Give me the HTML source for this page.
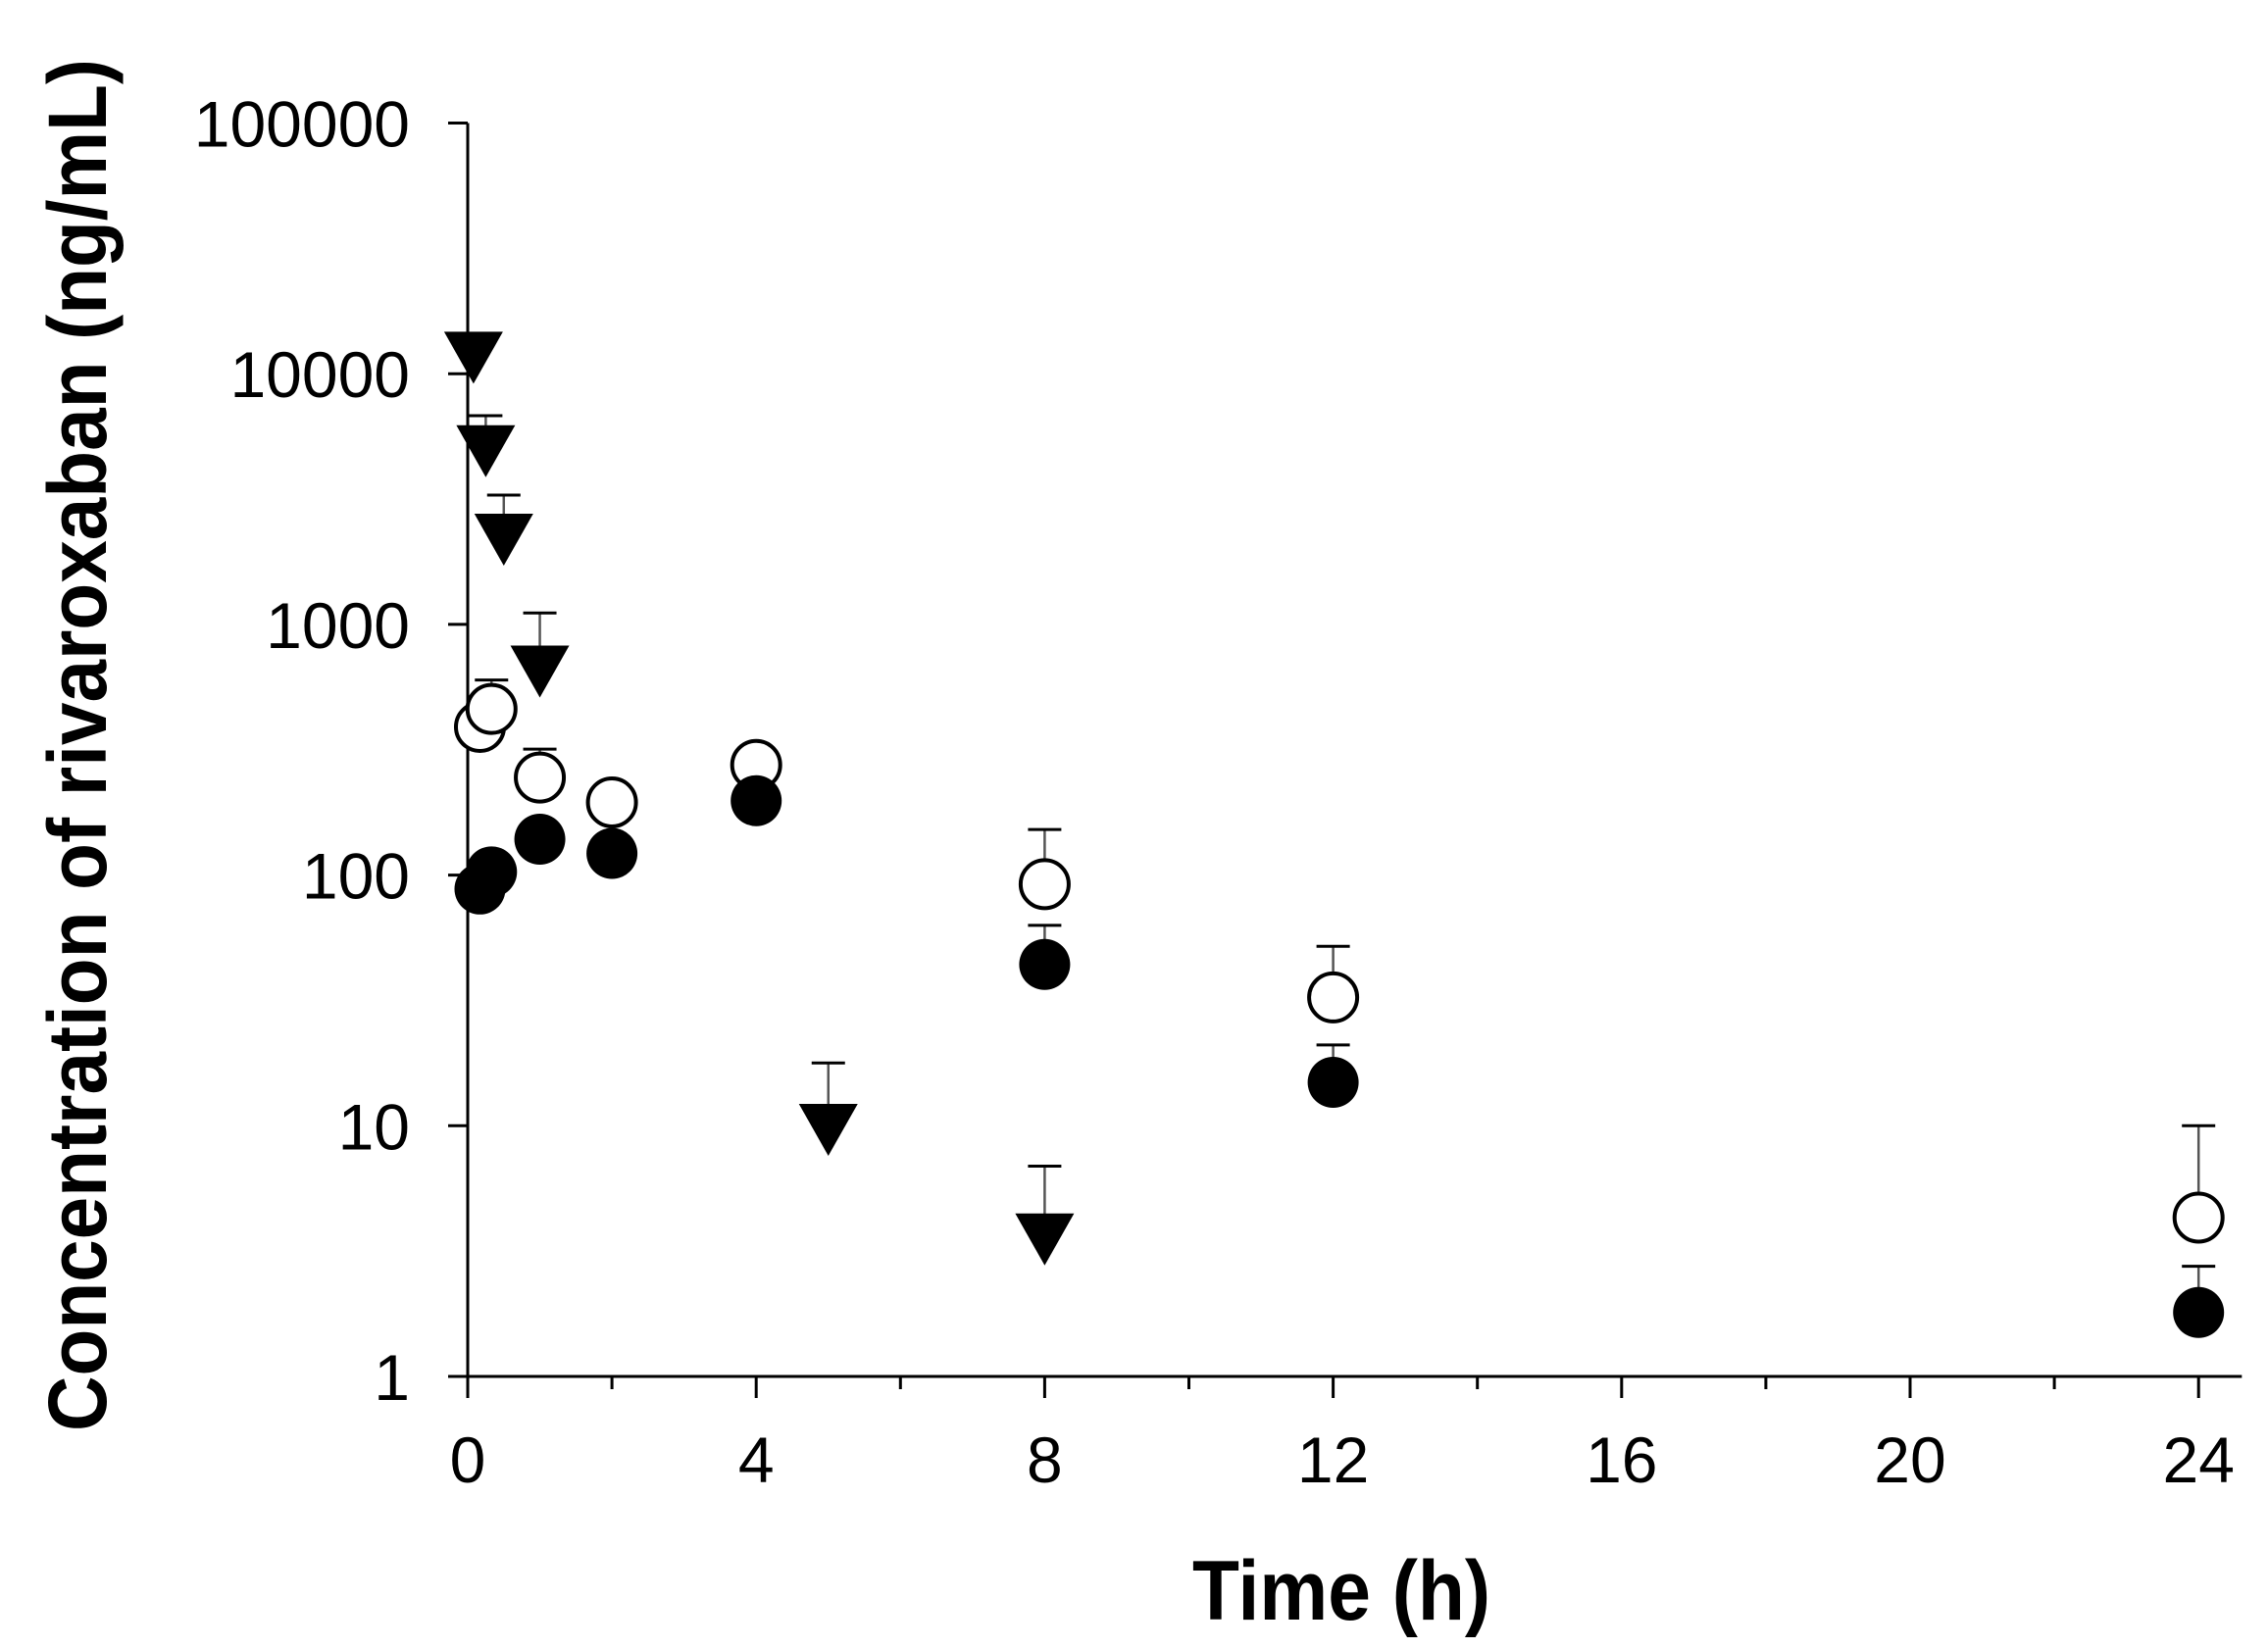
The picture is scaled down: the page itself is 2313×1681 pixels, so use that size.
<!DOCTYPE html>
<html><head><meta charset="utf-8"><style>
html,body{margin:0;padding:0;background:#fff;}
svg{display:block;}
text{font-family:"Liberation Sans",Arial,sans-serif;fill:#000;}
</style></head><body>
<svg id="chart" width="2313" height="1681" viewBox="0 0 2313 1681" xmlns="http://www.w3.org/2000/svg">
<g id="axes"></g>
<g id="marks"></g>
<text transform="translate(108,760) rotate(-90)" text-anchor="middle" font-weight="bold" font-size="84" textLength="1400" lengthAdjust="spacingAndGlyphs">Concentration of rivaroxaban (ng/mL)</text>
<text x="1368" y="1652" text-anchor="middle" font-weight="bold" font-size="86" textLength="304" lengthAdjust="spacingAndGlyphs">Time (h)</text>
</svg>
<script>
const xTicks = [0,4,8,12,16,20,24];
const yTicks = [1,10,100,1000,10000,100000];
const yTickLabels = ["1","10","100","1000","10000","100000"];
// triangles
const triT = [0.08,0.25,0.5,1,5,8];
const triV = [12500,5300,2350,700,10.4,3.8];
const triErr = [null,6800,3280,1110,17.8,6.9];
// open circles
const openT = [0.17,0.33,1,2,4,8,12,24];
const openV = [390,460,245,195,275,92,32.5,4.3];
const openErr = [null,600,318,230,null,152,52,10];
// filled circles
const fillT = [0.17,0.33,1,2,4,8,12,24];
const fillV = [88,103,139,122,198,44,14.9,1.8];
const fillErr = [null,null,null,null,null,63,21,2.75];

const X0=477, XS=73.55, Y0=1404, YD=255.7;
function xs(t){return X0+t*XS;}
function ys(v){return Y0-Math.log10(v)*YD;}
const NS="http://www.w3.org/2000/svg";
function mk(tag,attrs,parent){const e=document.createElementNS(NS,tag);for(const k in attrs)e.setAttribute(k,attrs[k]);parent.appendChild(e);return e;}
const axes=document.getElementById('axes'), marks=document.getElementById('marks');

let l=mk('line',{x1:X0,y1:ys(100000),x2:X0,y2:Y0,stroke:'#000','stroke-width':3},axes);


l=mk('line',{x1:X0-20,y1:Y0,x2:xs(24.6),y2:Y0,stroke:'#000','stroke-width':3},axes);


yTicks.forEach((v,i)=>{
  const tk=mk('line',{x1:X0-20,y1:ys(v),x2:X0,y2:ys(v),stroke:'#000','stroke-width':3},axes);
  
  
  const t=mk('text',{x:418,y:ys(v)+24,'text-anchor':'end','font-size':66},axes);
  t.textContent=yTickLabels[i];
  
  
});
for(let h=0;h<=24;h+=2){
  const major=h%4===0;
  const tk=mk('line',{x1:xs(h),y1:Y0,x2:xs(h),y2:Y0+(major?22:13),stroke:'#000','stroke-width':3},axes);
  
  
}
xTicks.forEach(h=>{
  const t=mk('text',{x:xs(h),y:1512,'text-anchor':'middle','font-size':66},axes);
  t.textContent=String(h);
  
  
});

function errBar(t,v,e){
  if(e==null)return;
  const g=mk('g',{},marks);
  
  
  mk('line',{x1:xs(t),y1:ys(v),x2:xs(t),y2:ys(e),stroke:'#555','stroke-width':2.5},g);
  mk('line',{x1:xs(t)-17,y1:ys(e),x2:xs(t)+17,y2:ys(e),stroke:'#000','stroke-width':3},g);
}
triT.forEach((t,i)=>errBar(t,triV[i],triErr[i]));
openT.forEach((t,i)=>errBar(t,openV[i],openErr[i]));
fillT.forEach((t,i)=>errBar(t,fillV[i],fillErr[i]));

triT.forEach((t,i)=>{
  const x=xs(t),y=ys(triV[i]);
  const p=mk('polygon',{points:`${x-30},${y-18} ${x+30},${y-18} ${x},${y+35}`,fill:'#000'},marks);
  
  
});
openT.forEach((t,i)=>{
  const c=mk('circle',{cx:xs(t),cy:ys(openV[i]),r:24.5,fill:'#fff',stroke:'#000','stroke-width':4},marks);
  
  
});
fillT.forEach((t,i)=>{
  const c=mk('circle',{cx:xs(t),cy:ys(fillV[i]),r:26,fill:'#000'},marks);
  
  
});
</script>
</body></html>
